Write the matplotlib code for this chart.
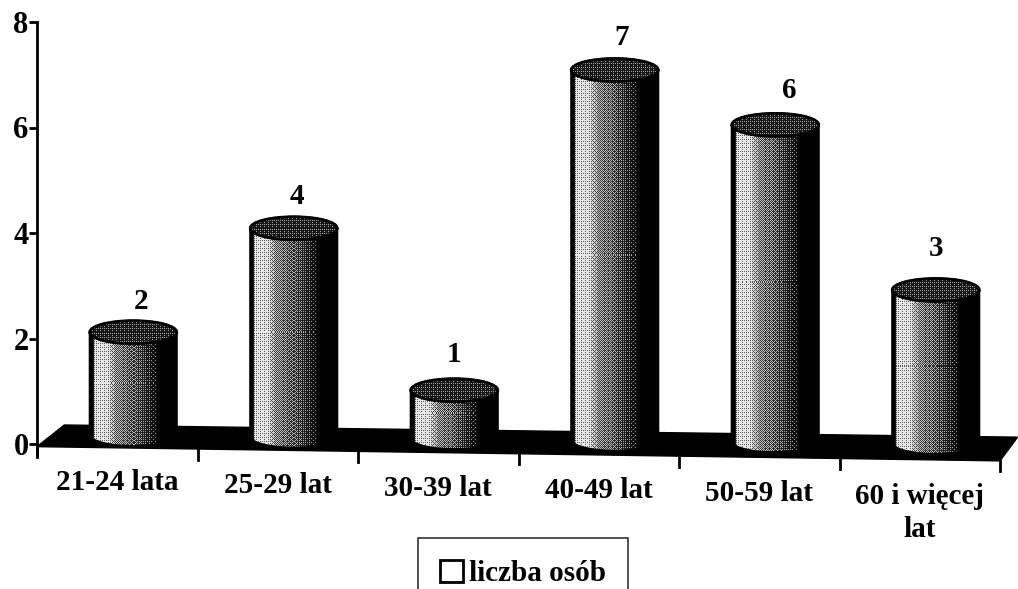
#!/usr/bin/env python3
import numpy as np
import matplotlib
matplotlib.use("Agg")
import matplotlib.pyplot as plt
from matplotlib.patches import Ellipse, PathPatch, Patch, Polygon
from matplotlib.path import Path

categories = ["21-24 lata", "25-29 lat", "30-39 lat", "40-49 lat", "50-59 lat", "60 i więcej\nlat"]
values = [2, 4, 1, 7, 6, 3]
y_ticks = [0, 2, 4, 6, 8]
series_name = "liczba osób"

plt.rcParams["font.family"] = ["Liberation Serif", "DejaVu Serif"]
plt.rcParams["font.weight"] = "bold"

W, H = 1018, 589
fig = plt.figure(figsize=(W / 100, H / 100), dpi=100)
ax = fig.add_axes([37 / W, 1 - 444 / H, 963 / W, 422 / H])
ax.set_xlim(0, 6)
ax.set_ylim(0, 8)
PX_X = 6 / 963
PX_Y = 8 / 422

TILT = 0.03        # the floor runs slightly downhill
BAR_W = 87 * PX_X
BAR_DX = 16 * PX_X
ELL_H = 23 * PX_Y
top_shift = [0.12, 0.09, 0.02, 0.09, 0.05, -0.08]
label_dx = [0.15, 0.12, 0.10, 0.14, 0.19, 0.10]

BAYER = np.array([[0, 8, 2, 10], [12, 4, 14, 6], [3, 11, 1, 9], [15, 7, 13, 5]]) / 16 + 1 / 32


def dither(gray):
    # halftone the grey levels like the scanned print
    h, w = gray.shape
    tile = np.tile(BAYER, (h // 4 + 1, w // 4 + 1))[:h, :w]
    return 0.55 * (gray > tile) + 0.45 * gray


def shade_body(x0, x1, y0, y1, clip):
    w = max(int((x1 - x0) / PX_X), 2)
    h = max(int((y1 - y0) / PX_Y), 2)
    prof = np.interp(np.linspace(0, 1, w),
                     [0, 0.03, 0.05, 0.22, 0.30, 0.50, 0.62, 0.74, 0.80, 1],
                     [0, 0, 0.82, 0.78, 0.5, 0.38, 0.25, 0.12, 0, 0])
    im = ax.imshow(dither(np.tile(prof, (h, 1))), cmap="gray", vmin=0, vmax=1,
                   extent=[x0, x1, y0, y1], aspect="auto", interpolation="nearest", zorder=3)
    im.set_clip_box(fig.bbox)
    im.set_clip_path(clip)


# dark floor of the 3D chart
floor = Polygon([(0, -0.05), (0.17, 0.36), (6.11, 0.13), (6.0, -0.32)],
                closed=True, fc="black", ec="black", clip_on=False, zorder=1)
ax.add_patch(floor)

for i, v in enumerate(values):
    cx = i + 0.5 + BAR_DX
    x0, x1 = cx - BAR_W / 2, cx + BAR_W / 2
    top = v + top_shift[i]
    base = ELL_H / 2 - 0.02 - TILT * i

    t = np.linspace(np.pi, 2 * np.pi, 40)
    lower = np.column_stack([cx + BAR_W / 2 * np.cos(t), base + ELL_H / 2 * np.sin(t)])
    upper = np.column_stack([cx + BAR_W / 2 * np.cos(t[::-1]), top + ELL_H / 2 * np.sin(t[::-1])])
    pts = np.vstack([lower, upper, lower[:1]])
    body = PathPatch(Path(pts), fc="white", ec="black", lw=1.5, zorder=2, clip_on=False)
    ax.add_patch(body)
    shade_body(x0, x1, base - ELL_H / 2, top + ELL_H / 2, body)

    # stippled lid
    lid = Ellipse((cx, top), BAR_W, ELL_H, fc="black", ec="black", lw=1.5, zorder=4)
    ax.add_patch(lid)
    w, h = int(BAR_W / PX_X), int(ELL_H / PX_Y)
    im = ax.imshow(dither(np.full((h, w), 0.2)), cmap="gray", vmin=0, vmax=1,
                   extent=[x0, x1, top - ELL_H / 2, top + ELL_H / 2], aspect="auto",
                   interpolation="nearest", zorder=5)
    im.set_clip_path(lid)
    ax.add_patch(Ellipse((cx, top), BAR_W, ELL_H, fc="none", ec="black", lw=2, zorder=6))

    ax.text(i + 0.5 + label_dx[i], v + 0.7, str(v), ha="center", va="center",
            fontsize=21, fontweight="bold", zorder=7)

ax.set_xlim(0, 6)
ax.set_ylim(0, 8)
ax.patch.set_visible(False)
for s in ["top", "right", "bottom"]:
    ax.spines[s].set_visible(False)
ax.spines["left"].set_linewidth(2)
ax.spines["left"].set_bounds(-0.2, 8)

ax.set_yticks(y_ticks)
ax.set_yticklabels([str(t) for t in y_ticks], fontsize=22, fontweight="bold")
ax.tick_params(axis="y", length=6, width=2, pad=0)

# category ticks follow the tilted floor edge
ax.set_xticks([])
for k in range(len(categories) + 1):
    y_top = -0.05 - 0.045 * k
    ax.plot([k, k], [y_top, y_top - 0.2], color="black", lw=2, clip_on=False, zorder=2)
for i, c in enumerate(categories):
    ax.text(i + 0.5, -0.48 - 0.05 * i, c, ha="center", va="top", fontsize=21,
            fontweight="bold", linespacing=1.3)

leg = fig.legend(handles=[Patch(fc="white", ec="black", lw=2)], labels=[series_name],
                 loc="upper left", bbox_to_anchor=(418 / W, 1 - 538 / H),
                 prop={"size": 21, "weight": "bold"}, fancybox=False, edgecolor="#333333",
                 framealpha=1, borderpad=0.75, handlelength=0.8, handleheight=0.8,
                 handletextpad=0.2, borderaxespad=0)
leg.get_frame().set_linewidth(1.2)

fig.savefig("out.png", dpi=100)
